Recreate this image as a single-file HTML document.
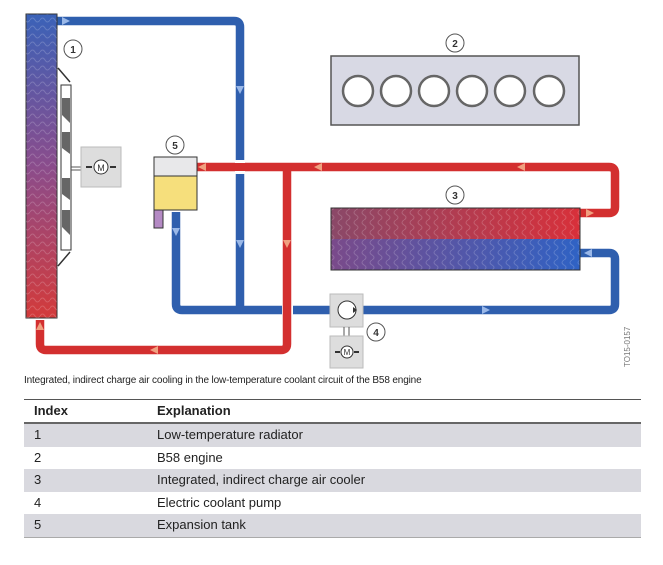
<!DOCTYPE html>
<html><head><meta charset="utf-8"><style>
body{margin:0;background:#fff;width:663px;height:565px;overflow:hidden;font-family:"Liberation Sans",sans-serif}
.cap{position:absolute;left:24px;top:375px;font-size:10px;color:#222;letter-spacing:-0.15px}
.tbl{position:absolute;left:24px;top:399px;width:617px;border-top:1px solid #555;border-bottom:1px solid #aaa}
.r{height:22.6px;line-height:22.6px;font-size:13px;color:#222;position:relative}
.r span{position:absolute;left:10px}.r b,.r em{position:absolute;left:133px;font-style:normal}
.h{font-weight:bold;border-bottom:2px solid #666;height:22px}
.g{background:#d9d9df}
</style></head><body>
<svg width="663" height="370" style="position:absolute;left:0;top:0">
<defs>
<linearGradient id="rad" x1="0" y1="0" x2="0" y2="1"><stop offset="0" stop-color="#3a62b8"/><stop offset="0.5" stop-color="#8a4c8c"/><stop offset="1" stop-color="#d33a3a"/></linearGradient>
<linearGradient id="ct" x1="0" y1="0" x2="1" y2="0"><stop offset="0" stop-color="#8a4868"/><stop offset="1" stop-color="#d8303a"/></linearGradient>
<linearGradient id="cb" x1="0" y1="0" x2="1" y2="0"><stop offset="0" stop-color="#7a4a8a"/><stop offset="1" stop-color="#2f62c4"/></linearGradient>
<pattern id="wv" width="10" height="8" patternUnits="userSpaceOnUse"><path d="M0 4 Q2.5 0 5 4 T10 4" fill="none" stroke="rgba(255,255,255,0.18)" stroke-width="1"/></pattern>
<pattern id="wv2" width="8" height="10" patternUnits="userSpaceOnUse"><path d="M4 0 Q0 2.5 4 5 T4 10" fill="none" stroke="rgba(255,255,255,0.18)" stroke-width="1"/></pattern>
</defs>
<g fill="none" stroke-width="8.5" stroke-linejoin="round">
<path d="M57 21 H234 Q240 21 240 27 V310" stroke="#2f5fae"/>
<path d="M176 212 V304 Q176 310 182 310 H282" stroke="#2f5fae"/>
<path d="M293 310 H609 Q615 310 615 304 V259 Q615 253 609 253 H580" stroke="#2f5fae"/>
<path d="M197 167 H609 Q615 167 615 173 V207 Q615 213 609 213 H580" stroke="#d32f2f"/>
<path d="M287 167 V344 Q287 350 281 350 H46 Q40 350 40 344 V320" stroke="#d32f2f"/>
</g>
<rect x="235" y="160" width="10" height="3" fill="#fff"/><rect x="235" y="171" width="10" height="3" fill="#fff"/>
<g fill="#9ab8e8"><path d="M62 17 l8 4 -8 4z"/><path d="M236 86 l4 8 4-8z"/><path d="M236 240 l4 8 4-8z"/><path d="M172 228 l4 8 4-8z"/><path d="M482 306 l8 4 -8 4z"/><path d="M592 249 l-8 4 8 4z"/></g>
<g fill="#f0a080"><path d="M206 163 l-8 4 8 4z"/><path d="M322 163 l-8 4 8 4z"/><path d="M525 163 l-8 4 8 4z"/><path d="M283 240 l4 8 4-8z"/><path d="M158 346 l-8 4 8 4z"/><path d="M36 330 l4 -8 4 8z"/><path d="M586 209 l8 4 -8 4z"/></g>
<rect x="26" y="14" width="31" height="304" fill="url(#rad)" stroke="#333"/>
<rect x="26" y="14" width="31" height="304" fill="url(#wv)"/>
<path d="M58 68 L70 82 M58 266 L70 252" stroke="#333" stroke-width="1.5"/>
<rect x="61" y="85" width="10" height="165" fill="#fff" stroke="#333"/>
<g fill="#666"><path d="M62 98 h8 v25 l-8 -8z"/><path d="M62 132 h8 v22 l-8 -6z"/><path d="M62 178 h8 v22 l-8 -6z"/><path d="M62 210 h8 v25 l-8 -8z"/></g>
<path d="M71 167 H81 M71 170 H81" stroke="#555"/>
<rect x="81" y="147" width="40" height="40" fill="#ddd" stroke="#bbb"/>
<circle cx="101" cy="167" r="7" fill="#fff" stroke="#333"/><text x="101" y="171" font-size="9" text-anchor="middle" fill="#333">M</text>
<path d="M86 167 H92 M110 167 H116" stroke="#333" stroke-width="2"/>
<rect x="154" y="157" width="43" height="19" fill="#e8e8ea" stroke="#333"/>
<rect x="154" y="176" width="43" height="34" fill="#f6df7c" stroke="#333"/>
<rect x="154" y="210" width="9" height="18" fill="#b48ac4" stroke="#333"/>
<rect x="331" y="56" width="248" height="69" fill="#d8d9e4" stroke="#555" stroke-width="1.5"/>
<g fill="#fff" stroke="#666" stroke-width="2.5"><circle cx="358" cy="91" r="15"/><circle cx="396" cy="91" r="15"/><circle cx="434" cy="91" r="15"/><circle cx="472" cy="91" r="15"/><circle cx="510" cy="91" r="15"/><circle cx="549" cy="91" r="15"/></g>
<rect x="331" y="208" width="249" height="31" fill="url(#ct)"/>
<rect x="331" y="239" width="249" height="31" fill="url(#cb)"/>
<rect x="331" y="208" width="249" height="62" fill="url(#wv2)" stroke="#333"/>
<rect x="330" y="294" width="33" height="33" fill="#ddd" stroke="#bbb"/>
<circle cx="347" cy="310" r="9" fill="#fff" stroke="#333"/><path d="M353 307 l4 3 -4 3z" fill="#333"/>
<path d="M344 327 V336 M349 327 V336" stroke="#555"/>
<rect x="330" y="336" width="33" height="32" fill="#ddd" stroke="#bbb"/>
<circle cx="347" cy="352" r="6" fill="#fff" stroke="#333"/><text x="347" y="355" font-size="8" text-anchor="middle" fill="#333">M</text>
<path d="M335 352 H340 M354 352 H359" stroke="#333" stroke-width="2"/>
<g font-size="10" font-weight="bold" text-anchor="middle" fill="#333">
<circle cx="73" cy="49" r="9" fill="#fff" stroke="#555"/><text x="73" y="53">1</text>
<circle cx="455" cy="43" r="9" fill="#fff" stroke="#555"/><text x="455" y="47">2</text>
<circle cx="455" cy="195" r="9" fill="#fff" stroke="#555"/><text x="455" y="199">3</text>
<circle cx="376" cy="332" r="9" fill="#fff" stroke="#555"/><text x="376" y="336">4</text>
<circle cx="175" cy="145" r="9" fill="#fff" stroke="#555"/><text x="175" y="149">5</text>
</g>
<text transform="translate(630,367) rotate(-90)" font-size="8" fill="#777">TO15-0157</text>
</svg>
<div class="cap">Integrated, indirect charge air cooling in the low-temperature coolant circuit of the B58 engine</div>
<div class="tbl">
<div class="r h"><span>Index</span><b>Explanation</b></div>
<div class="r g"><span>1</span><em>Low-temperature radiator</em></div>
<div class="r"><span>2</span><em>B58 engine</em></div>
<div class="r g"><span>3</span><em>Integrated, indirect charge air cooler</em></div>
<div class="r"><span>4</span><em>Electric coolant pump</em></div>
<div class="r g"><span>5</span><em>Expansion tank</em></div>
</div>
</body></html>
